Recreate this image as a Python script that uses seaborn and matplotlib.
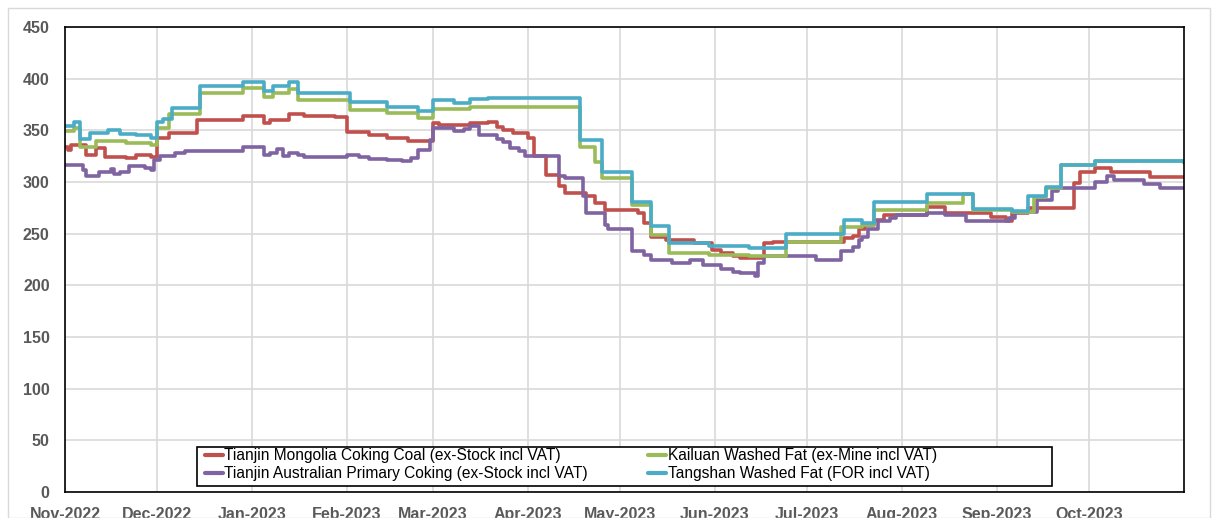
import matplotlib
matplotlib.use("Agg")
import matplotlib.pyplot as plt
import matplotlib.dates as mdates
from matplotlib.patches import Rectangle
import pandas as pd
import seaborn as sns

# ---------------- data (step change points) ----------------
series_names = [
    "Tianjin Mongolia Coking Coal (ex-Stock incl VAT)",
    "Tianjin Australian Primary Coking (ex-Stock incl VAT)",
    "Kailuan Washed Fat (ex-Mine incl VAT)",
    "Tangshan Washed Fat (FOR incl VAT)",
]
series_colors = ["#C0504D", "#8064A2", "#9BBB59", "#4BACC6"]

mongolia_dates = ["2022-11-01", "2022-11-02", "2022-11-03", "2022-11-08", "2022-11-11", "2022-11-14",
                  "2022-11-21", "2022-11-24", "2022-11-29", "2022-12-01", "2022-12-05", "2022-12-14",
                  "2022-12-29", "2023-01-05", "2023-01-07", "2023-01-13", "2023-01-18", "2023-01-28",
                  "2023-02-01", "2023-02-08", "2023-02-14", "2023-02-21", "2023-03-01", "2023-03-03",
                  "2023-03-13", "2023-03-19", "2023-03-22", "2023-03-24", "2023-03-27", "2023-04-01",
                  "2023-04-03", "2023-04-07", "2023-04-11", "2023-04-13", "2023-04-20", "2023-04-23",
                  "2023-04-26", "2023-05-07", "2023-05-09", "2023-05-11", "2023-05-16", "2023-05-25",
                  "2023-05-31", "2023-06-03", "2023-06-07", "2023-06-09", "2023-06-17", "2023-06-20",
                  "2023-07-13", "2023-07-16", "2023-07-18", "2023-07-20", "2023-07-23", "2023-07-26",
                  "2023-08-09", "2023-08-15", "2023-08-30", "2023-09-04", "2023-09-06", "2023-09-11",
                  "2023-09-26", "2023-09-28", "2023-10-03", "2023-10-08", "2023-10-21", "2023-11-01"]
mongolia_values = [334, 331, 336, 326, 333, 324,
                   323, 326, 324, 343, 347, 360,
                   364, 357, 360, 366, 364, 363,
                   348, 345, 343, 340, 357, 355,
                   357, 358, 353, 350, 347, 343,
                   325, 307, 296, 289, 286, 280,
                   273, 270, 260, 247, 244, 241,
                   234, 231, 228, 226, 241, 242,
                   246, 248, 255, 258, 263, 268,
                   276, 270, 266, 262, 270, 275,
                   299, 310, 314, 310, 305, 305]

australian_dates = ["2022-11-01", "2022-11-07", "2022-11-08", "2022-11-12", "2022-11-16", "2022-11-17",
                    "2022-11-19", "2022-11-22", "2022-11-27", "2022-11-29", "2022-11-30", "2022-12-02",
                    "2022-12-07", "2022-12-10", "2022-12-29", "2023-01-05", "2023-01-07", "2023-01-09",
                    "2023-01-11", "2023-01-13", "2023-01-16", "2023-01-18", "2023-02-01", "2023-02-05",
                    "2023-02-08", "2023-02-14", "2023-02-19", "2023-02-22", "2023-02-24", "2023-02-28",
                    "2023-03-01", "2023-03-08", "2023-03-11", "2023-03-13", "2023-03-16", "2023-03-22",
                    "2023-03-24", "2023-03-26", "2023-03-29", "2023-03-31", "2023-04-11", "2023-04-13",
                    "2023-04-19", "2023-04-20", "2023-04-26", "2023-04-27", "2023-05-05", "2023-05-09",
                    "2023-05-11", "2023-05-18", "2023-05-24", "2023-05-28", "2023-06-03", "2023-06-07",
                    "2023-06-09", "2023-06-14", "2023-06-15", "2023-06-17", "2023-07-04", "2023-07-12",
                    "2023-07-16", "2023-07-18", "2023-07-19", "2023-07-21", "2023-07-24", "2023-07-28",
                    "2023-07-30", "2023-08-09", "2023-08-15", "2023-08-22", "2023-09-05", "2023-09-07",
                    "2023-09-14", "2023-09-19", "2023-09-21", "2023-10-03", "2023-10-07", "2023-10-09",
                    "2023-10-19", "2023-10-24", "2023-11-01"]
australian_values = [316, 312, 306, 310, 313, 308,
                     310, 315, 314, 312, 321, 325,
                     328, 330, 334, 326, 328, 332,
                     325, 328, 326, 324, 326, 324,
                     322, 321, 320, 323, 331, 341,
                     352, 349, 351, 354, 345, 342,
                     339, 333, 330, 325, 306, 304,
                     286, 270, 258, 255, 233, 229,
                     225, 222, 225, 220, 216, 213,
                     212, 209, 222, 228, 225, 233,
                     237, 244, 247, 255, 262, 265,
                     268, 270, 268, 262, 265, 271,
                     283, 291, 294, 300, 306, 302,
                     298, 294, 294]

kailuan_dates = ["2022-11-01", "2022-11-04", "2022-11-06", "2022-11-11", "2022-11-21", "2022-11-29",
                 "2022-12-01", "2022-12-05", "2022-12-15", "2022-12-29", "2023-01-05", "2023-01-08",
                 "2023-01-13", "2023-01-16", "2023-02-02", "2023-02-14", "2023-02-24", "2023-03-01",
                 "2023-03-13", "2023-04-18", "2023-04-23", "2023-04-25", "2023-05-05", "2023-05-11",
                 "2023-05-17", "2023-05-30", "2023-06-12", "2023-06-24", "2023-07-12", "2023-07-19",
                 "2023-07-23", "2023-08-09", "2023-08-21", "2023-08-24", "2023-09-06", "2023-09-13",
                 "2023-09-17", "2023-09-22", "2023-10-03", "2023-11-01"]
kailuan_values = [349, 352, 334, 340, 338, 336,
                  352, 366, 386, 391, 382, 386,
                  390, 379, 370, 367, 362, 371,
                  373, 334, 319, 304, 278, 249,
                  231, 229, 228, 242, 256, 258,
                  273, 280, 288, 273, 271, 285,
                  294, 316, 320, 318]

tangshan_dates = ["2022-11-01", "2022-11-04", "2022-11-06", "2022-11-09", "2022-11-15", "2022-11-19",
                  "2022-11-24", "2022-11-29", "2022-12-01", "2022-12-03", "2022-12-06", "2022-12-15",
                  "2022-12-29", "2023-01-05", "2023-01-08", "2023-01-13", "2023-01-16", "2023-02-02",
                  "2023-02-14", "2023-02-24", "2023-03-01", "2023-03-08", "2023-03-13", "2023-03-19",
                  "2023-04-18", "2023-04-25", "2023-05-05", "2023-05-11", "2023-05-17", "2023-05-30",
                  "2023-06-12", "2023-06-24", "2023-07-13", "2023-07-19", "2023-07-23", "2023-08-09",
                  "2023-08-24", "2023-09-06", "2023-09-11", "2023-09-17", "2023-09-22", "2023-10-03",
                  "2023-11-01"]
tangshan_values = [354, 358, 342, 347, 350, 346,
                   345, 343, 358, 361, 372, 393,
                   397, 388, 393, 397, 386, 377,
                   373, 369, 379, 376, 380, 381,
                   341, 310, 281, 257, 241, 238,
                   236, 250, 263, 260, 281, 288,
                   274, 272, 286, 295, 316, 320,
                   319]

y_ticks = [0, 50, 100, 150, 200, 250, 300, 350, 400, 450]

# ---------------- build table ----------------
frames = []
for name, d, v in zip(series_names,
                      [mongolia_dates, australian_dates, kailuan_dates, tangshan_dates],
                      [mongolia_values, australian_values, kailuan_values, tangshan_values]):
    frames.append(pd.DataFrame({"date": pd.to_datetime(d), "price": v, "series": name}))
df = pd.concat(frames, ignore_index=True)

# ---------------- plot ----------------
sns.set_theme(style="white")
plt.rcParams["font.family"] = ["Liberation Sans Narrow", "Liberation Sans", "DejaVu Sans"]

fig = plt.figure(figsize=(12.13, 5.18), dpi=100)
ax = fig.add_axes([65 / 1213, 26 / 518, (1184 - 65) / 1213, (492 - 27) / 518])

sns.lineplot(data=df, x="date", y="price", hue="series", hue_order=series_names,
             palette=series_colors, drawstyle="steps-post", linewidth=2.6,
             estimator=None, sort=True, ax=ax, legend=True)

ax.set_xlim(pd.Timestamp("2022-11-01"), pd.Timestamp("2023-10-31 23:00"))
ax.set_ylim(0, 450)
ax.set_yticks(y_ticks)
ax.xaxis.set_major_locator(mdates.MonthLocator())
ax.xaxis.set_major_formatter(mdates.DateFormatter("%b-%Y"))
ax.set_xlabel("")
ax.set_ylabel("")

ax.grid(True, color="#D9D9D9", linewidth=1.2)
ax.set_axisbelow(True)
for s in ax.spines.values():
    s.set_visible(True)
    s.set_color("black")
    s.set_linewidth(1.2)

ax.tick_params(axis="x", which="major", direction="out", length=5, width=1, color="black",
               labelsize=11.5, labelcolor="#595959", pad=6)
ax.tick_params(axis="y", which="major", length=0, labelsize=11.5, labelcolor="#595959", pad=11)
for lab in ax.get_xticklabels() + ax.get_yticklabels():
    lab.set_fontweight("bold")

# legend box (white, black border) drawn as a patch, entries laid inside it
ax.add_patch(Rectangle(((197 - 65) / 1119, (492 - 486) / 465), (1052 - 197) / 1119, (486 - 447) / 465,
                       transform=ax.transAxes, facecolor="white", edgecolor="black",
                       linewidth=1.2, zorder=4))
handles, labels = ax.get_legend_handles_labels()
for h in handles:
    h.set_linewidth(3)
leg = ax.legend(handles, labels, ncol=2, loc="upper left",
                bbox_to_anchor=((205 - 65) / 1119, (492 - 448) / 465),
                frameon=False, fontsize=11.2,
                handlelength=1.15, handletextpad=0.08, columnspacing=3.9,
                labelspacing=0.2, borderpad=0.0, borderaxespad=0)
leg.set_zorder(5)
for t in leg.get_texts():
    t.set_color("#000000")

# light outer chart border
fig.patches.append(Rectangle((8 / 1213, 0), (1210 - 8) / 1213, (518 - 8) / 518,
                             transform=fig.transFigure, fill=False,
                             edgecolor="#D9D9D9", linewidth=1))

fig.savefig("out.png", dpi=100)
